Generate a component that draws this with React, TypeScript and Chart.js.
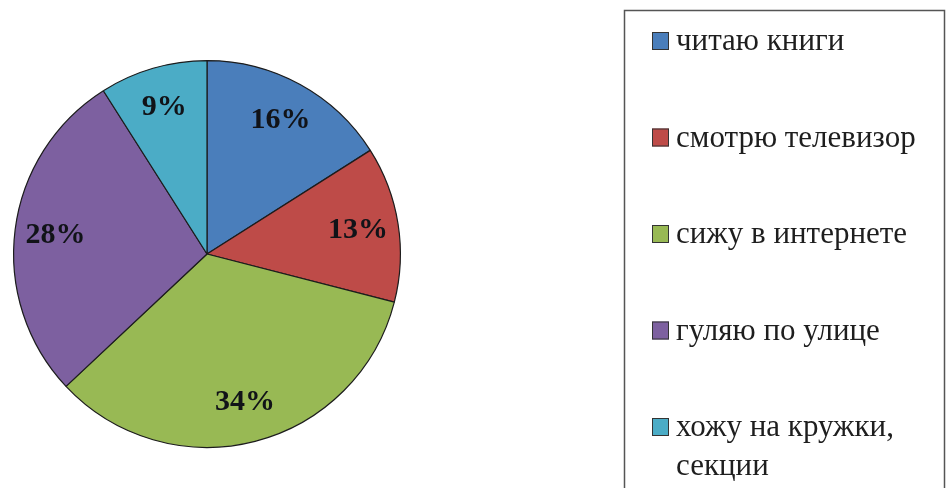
import React, { useEffect, useRef } from "react";
import { Chart, registerables } from "chart.js";

Chart.register(...registerables);

const categories = [
  "читаю книги",
  "смотрю телевизор",
  "сижу в интернете",
  "гуляю по улице",
  "хожу на кружки, секции",
];
const values = [16, 13, 34, 28, 9];
const colors = ["#4a7ebb", "#be4b48", "#98b954", "#7d60a0", "#4bacc6"];

const SERIF = '"Liberation Serif", "Times New Roman", serif';

const pctLabels = {
  id: "pctLabels",
  afterDatasetsDraw(chart: any) {
    const ctx = chart.ctx;
    const meta = chart.getDatasetMeta(0);
    const data = chart.data.datasets[0].data as number[];
    const total = data.reduce((a, b) => a + b, 0);
    ctx.save();
    ctx.font = `bold 30px ${SERIF}`;
    ctx.fillStyle = "#111318";
    ctx.textAlign = "center";
    ctx.textBaseline = "middle";
    meta.data.forEach((arc: any, i: number) => {
      const p = arc.getProps(["x", "y", "startAngle", "endAngle", "outerRadius"], true);
      const mid = (p.startAngle + p.endAngle) / 2;
      const r = p.outerRadius * 0.79;
      const tx = p.x + Math.cos(mid) * r;
      const ty = p.y + Math.sin(mid) * r;
      ctx.fillText(`${Math.round((data[i] / total) * 100)}%`, tx, ty);
    });
    ctx.restore();
  },
};

const boxLegend = {
  id: "boxLegend",
  afterDraw(chart: any) {
    const ctx = chart.ctx;
    const labels = chart.data.labels as string[];
    const bg = chart.data.datasets[0].backgroundColor as string[];
    ctx.save();
    ctx.strokeStyle = "#555555";
    ctx.lineWidth = 1.5;
    ctx.strokeRect(624.5, 10.5, 320, 500);
    ctx.font = `31px ${SERIF}`;
    ctx.textBaseline = "alphabetic";
    ctx.textAlign = "left";
    const maxW = 262;
    labels.forEach((lab, i) => {
      const cy = 41 + i * 96.5;
      ctx.fillStyle = bg[i];
      ctx.fillRect(652, cy - 9, 17, 18);
      ctx.strokeStyle = "#333333";
      ctx.lineWidth = 1;
      ctx.strokeRect(652.5, cy - 8.5, 16, 17);
      const words = lab.split(" ");
      const lines: string[] = [];
      let cur = "";
      words.forEach((w) => {
        const test = cur ? cur + " " + w : w;
        if (ctx.measureText(test).width > maxW && cur) {
          lines.push(cur);
          cur = w;
        } else cur = test;
      });
      if (cur) lines.push(cur);
      ctx.fillStyle = "#1e1e1e";
      lines.forEach((ln, j) => {
        ctx.fillText(ln, 676, cy + 9 + j * 39);
      });
    });
    ctx.restore();
  },
};

export default function App() {
  const ref = useRef<HTMLCanvasElement>(null);
  useEffect(() => {
    if (!ref.current) return;
    const chart = new Chart(ref.current, {
      type: "pie",
      data: {
        labels: categories,
        datasets: [
          {
            data: values,
            backgroundColor: colors,
            borderColor: "#1c1c1c",
            borderWidth: 1.2,
          },
        ],
      },
      options: {
        responsive: false,
        animation: false,
        layout: { padding: { left: 13, top: 60, right: 545, bottom: 40 } },
        plugins: {
          legend: { display: false },
          tooltip: { enabled: false },
        },
      },
      plugins: [pctLabels, boxLegend],
    });
    return () => chart.destroy();
  }, []);
  return (
    <div style={{ position: "fixed", left: 0, top: 0, width: 946, height: 488, background: "#fff" }}>
      <canvas ref={ref} width={946} height={488} />
    </div>
  );
}
